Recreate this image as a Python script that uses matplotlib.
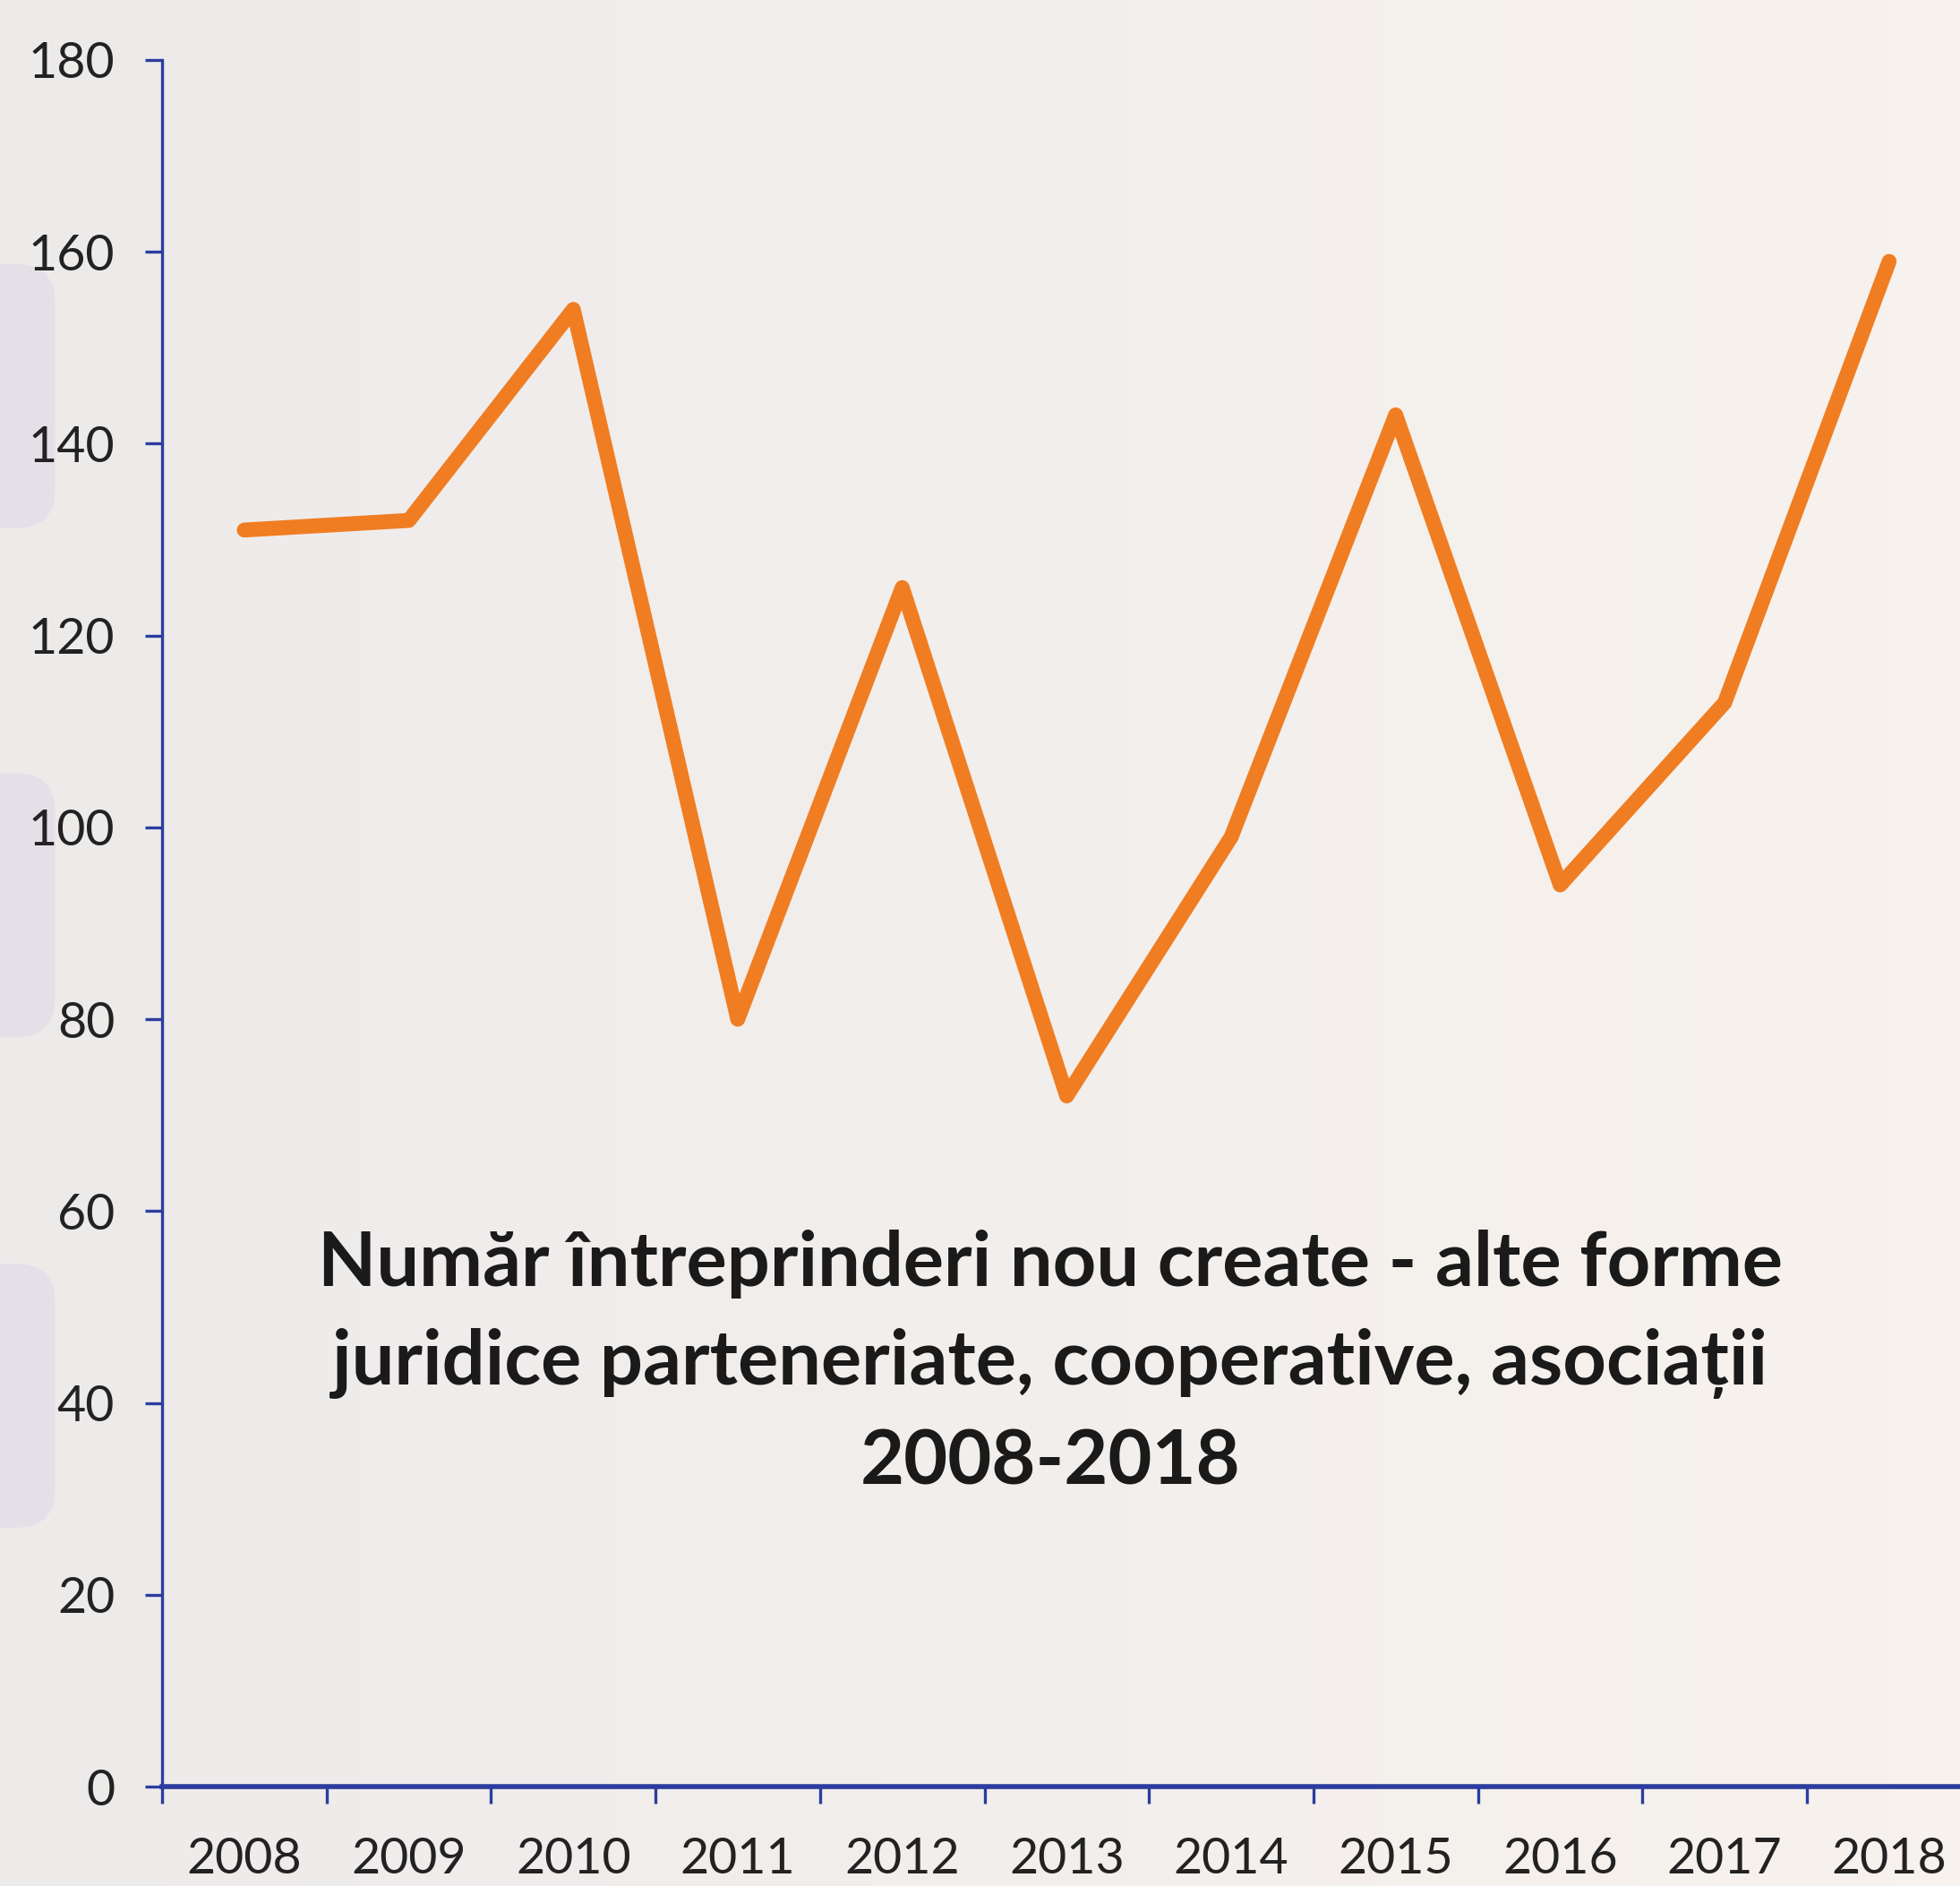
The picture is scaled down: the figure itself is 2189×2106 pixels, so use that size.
import numpy as np
import matplotlib.pyplot as plt
from matplotlib.patches import FancyBboxPatch
from matplotlib.ticker import FixedLocator, NullFormatter

years = ['2008', '2009', '2010', '2011', '2012', '2013',
         '2014', '2015', '2016', '2017', '2018']
firms = [131, 132, 154, 80, 125, 72, 99, 143, 94, 113, 159]
y_ticks = [0, 20, 40, 60, 80, 100, 120, 140, 160, 180]

title = ('Număr întreprinderi nou create - alte forme\n'
         'juridice parteneriate, cooperative, asociații\n'
         '2008-2018')

plt.rcParams['font.family'] = ['Lato', 'DejaVu Sans']

axis_col = '#2c3d9e'
line_col = '#f07d22'

W, H = 2189, 2106
fig = plt.figure(figsize=(W / 100, H / 100), dpi=100, facecolor='#f2eeeb')

# soft backdrop: greyish on the left, warmer on the right
bg = fig.add_axes([0, 0, 1, 1], zorder=-10)
grad = np.linspace(0, 1, 256)
c0 = np.array([0.93, 0.92, 0.92])
c1 = np.array([0.97, 0.95, 0.93])
img = c0[None, :] * (1 - grad[:, None]) + c1[None, :] * grad[:, None]
bg.imshow(img[None, :, :], aspect='auto', extent=[0, 1, 0, 1])
# faint lavender shapes cut by the left edge
for y0, y1 in [(0.72, 0.86), (0.45, 0.59), (0.19, 0.33)]:
    bg.add_patch(FancyBboxPatch((-0.03, y0), 0.058, y1 - y0,
                                boxstyle='round,pad=0,rounding_size=0.02',
                                fc='#ddd2e4', ec='none', alpha=0.45))
bg.set_xlim(0, 1)
bg.set_ylim(0, 1)
bg.axis('off')

# axes runs a little past the right edge, as in the cropped original
left, bottom, top = 181 / W, 1 - 1995 / H, 1 - 67 / H
width = 11 * 183.7 / W
ax = fig.add_axes([left, bottom, width, top - bottom])
ax.set_facecolor('none')

x = np.arange(len(years))
ax.plot(x, firms, color=line_col, lw=12, solid_capstyle='round',
        solid_joinstyle='round', zorder=3)

ax.set_xlim(-0.5, len(years) - 0.5)
ax.set_ylim(0, 180)

ax.set_yticks(y_ticks)
ax.set_xticks(x)
ax.set_xticklabels(years)
ax.xaxis.set_minor_locator(FixedLocator(np.arange(-0.5, len(years), 1.0)))
ax.xaxis.set_minor_formatter(NullFormatter())

for side in ['top', 'right']:
    ax.spines[side].set_visible(False)
ax.spines['left'].set_color(axis_col)
ax.spines['left'].set_linewidth(2.4)
ax.spines['bottom'].set_color(axis_col)
ax.spines['bottom'].set_linewidth(4)

ax.tick_params(axis='y', direction='out', length=14, width=2.4, color=axis_col,
               pad=24, labelsize=40, labelcolor='#222222')
ax.tick_params(axis='x', which='major', length=0, pad=40, labelsize=40,
               labelcolor='#222222')
ax.tick_params(axis='x', which='minor', direction='out', length=14, width=2.4,
               color=axis_col)

fig.text(1173 / W, 1 - 1522 / H, title, ha='center', va='center',
         fontsize=61, fontweight='bold', color='#1a1a1a', linespacing=1.52)

fig.savefig('out.png', dpi=100, facecolor=fig.get_facecolor())
